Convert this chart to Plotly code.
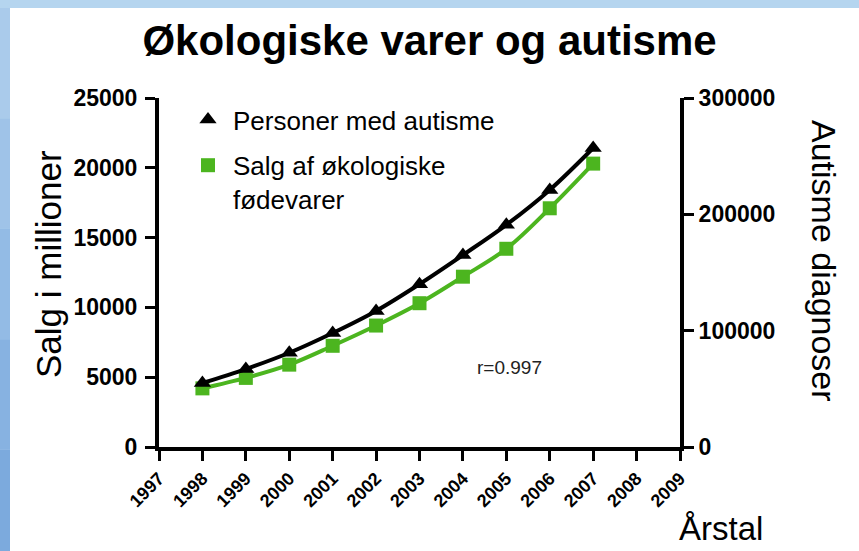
import plotly.graph_objects as go

years = [1998, 1999, 2000, 2001, 2002, 2003, 2004, 2005, 2006, 2007]
autisme = [55000, 67000, 81000, 98000, 117000, 140000, 165000, 191000, 221000, 257000]
salg = [4200, 4950, 5900, 7250, 8700, 10300, 12200, 14200, 17100, 20300]
x_ticks = list(range(1997, 2010))
y_left_ticks = [0, 5000, 10000, 15000, 20000, 25000]
y_right_ticks = [0, 100000, 200000, 300000]

name_aut = "Personer med autisme"
name_salg = "Salg af økologiske<br>fødevarer"
GREEN = "#4cb51f"
FONT = "Liberation Sans, Arial, sans-serif"

W, H = 859, 551
L, R, T, B = 159, 680, 98, 447


def px(xp):
    return (xp - L) / (R - L)


def py(yp):
    return (B - yp) / (B - T)


fig = go.Figure()
fig.add_trace(go.Scatter(x=years, y=salg, mode="lines", line=dict(color=GREEN, width=4, shape="spline"),
                         showlegend=False, hoverinfo="skip"))
fig.add_trace(go.Scatter(x=years, y=autisme, yaxis="y2", mode="lines",
                         line=dict(color="black", width=4, shape="spline"), showlegend=False, hoverinfo="skip"))
fig.add_trace(go.Scatter(x=years, y=salg, mode="markers", name=name_salg, legendgroup="b", legendrank=2,
                         marker=dict(symbol="square", size=14, color=GREEN)))
fig.add_trace(go.Scatter(x=years, y=autisme, yaxis="y2", mode="markers", name=name_aut, legendgroup="a",
                         legendrank=1, marker=dict(symbol="triangle-up", size=15, color="black")))

shapes = [
    dict(type="rect", xref="paper", yref="paper", x0=px(10), x1=px(880), y0=py(570), y1=py(8),
         fillcolor="white", line=dict(width=0), layer="below"),
]
left_cols = ["#aacbeb", "#9fc3e8", "#93bbe5", "#87b2e1", "#7caadd"]
n = len(left_cols)
for i, c in enumerate(left_cols):
    shapes.append(dict(type="rect", xref="paper", yref="paper", x0=px(-5), x1=px(10),
                       y0=py(8 + (i + 1) * (560 - 8) / n), y1=py(8 + i * (560 - 8) / n),
                       fillcolor=c, line=dict(width=0), layer="below"))

annotations = [
    dict(text="Salg i millioner", x=px(48), y=py(264), xref="paper", yref="paper", showarrow=False,
         textangle=-90, font=dict(size=35, family=FONT, color="black"), xanchor="center", yanchor="middle"),
    dict(text="Autisme diagnoser", x=px(824), y=py(261), xref="paper", yref="paper", showarrow=False,
         textangle=90, font=dict(size=34, family=FONT, color="black"), xanchor="center", yanchor="middle"),
    dict(text="Årstal", x=px(721), y=py(528), xref="paper", yref="paper", showarrow=False,
         font=dict(size=33, family=FONT, color="black"), xanchor="center", yanchor="middle"),
    dict(text="r=0.997", x=px(509), y=py(367), xref="paper", yref="paper", showarrow=False,
         font=dict(size=19, family=FONT, color="#222222"), xanchor="center", yanchor="middle"),
]

axis_common = dict(showline=True, linewidth=4, linecolor="black", ticks="outside", ticklen=10, tickwidth=3,
                   tickcolor="black", showgrid=False, zeroline=False, automargin=False)

fig.update_layout(
    width=W, height=H,
    margin=dict(l=L, r=W - R, t=T, b=H - B, pad=0),
    paper_bgcolor="#b5d5ef",
    plot_bgcolor="white",
    title=dict(text="<b>Økologiske varer og autisme</b>", x=0.5, xanchor="center", y=1 - 40 / H, yanchor="middle",
               font=dict(size=42, family=FONT, color="black")),
    xaxis=dict(range=[1997, 2009], tickvals=x_ticks, ticktext=[str(v) for v in x_ticks], tickangle=-45,
               tickfont=dict(size=18, family=FONT, color="black", weight="bold"), **axis_common),
    yaxis=dict(range=[0, 25000], tickvals=y_left_ticks, ticktext=[str(v) for v in y_left_ticks],
               ticklabelstandoff=3,
               tickfont=dict(size=23, family=FONT, color="black", weight="bold"), **axis_common),
    yaxis2=dict(range=[0, 300000], tickvals=y_right_ticks, ticktext=[str(v) for v in y_right_ticks],
                overlaying="y", side="right",
                tickfont=dict(size=23, family=FONT, color="black", weight="bold"), **axis_common),
    legend=dict(x=px(183), y=py(96), xanchor="left", yanchor="top", bgcolor="rgba(0,0,0,0)",
                traceorder="grouped", font=dict(size=26, family=FONT, color="black"),
                tracegroupgap=9, valign="top", itemwidth=40),
    shapes=shapes,
    annotations=annotations,
)

fig.write_html("out.html", post_script="document.body.style.margin='0';",
               config={"displayModeBar": False})
